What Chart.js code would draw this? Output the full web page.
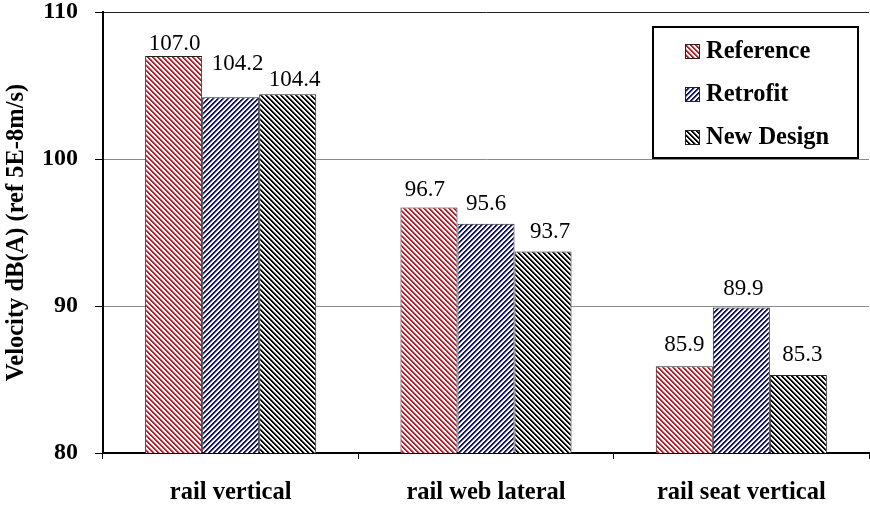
<!DOCTYPE html>
<html>
<head>
<meta charset="utf-8">
<script src="https://cdn.jsdelivr.net/npm/chart.js@4/dist/chart.umd.min.js"></script>
<style>
  html, body { margin: 0; padding: 0; background: #fff; }
  #wrap { width: 870px; height: 506px; position: relative; }
</style>
</head>
<body>
<div id="wrap"><canvas id="c"></canvas></div>
<script>
const categories = ['rail vertical', 'rail web lateral', 'rail seat vertical'];
const seriesNames = ['Reference', 'Retrofit', 'New Design'];
const referenceValues = [107.0, 96.7, 85.9];
const retrofitValues = [104.2, 95.6, 89.9];
const newDesignValues = [104.4, 93.7, 85.3];
const yTicks = [80, 90, 100, 110];

const FONT = "'Liberation Serif', 'Times New Roman', serif";

function makePattern(rgb, dir) {
  const s = 5;
  const c = document.createElement('canvas');
  c.width = s; c.height = s;
  const g = c.getContext('2d');
  const img = g.createImageData(s, s);
  for (let y = 0; y < s; y++) {
    for (let x = 0; x < s; x++) {
      const d = dir === '\\' ? ((x - y) % s + s) % s : ((x + y) % s + s) % s;
      let a = 0;
      if (d === 0 || d === 1) a = 1;
      else if (d === 2) a = 0.45;
      const idx = (y * s + x) * 4;
      img.data[idx] = Math.round(255 + (rgb[0] - 255) * a);
      img.data[idx + 1] = Math.round(255 + (rgb[1] - 255) * a);
      img.data[idx + 2] = Math.round(255 + (rgb[2] - 255) * a);
      img.data[idx + 3] = 255;
    }
  }
  g.putImageData(img, 0, 0);
  return g.createPattern(c, 'repeat');
}

const fills = [
  makePattern([190, 28, 40], '\\'),
  makePattern([20, 20, 100], '/'),
  makePattern([0, 0, 0], '\\')
];

// label nudges [dx, gap above bar top to baseline] per series/category
const labelNudges = [
  [[1, 6], [-4, 12], [0, 15]],
  [[7, 27], [0, 14], [2, 12]],
  [[7, 8], [7, 14], [4, 14]]
];

const valueLabels = {
  id: 'valueLabels',
  afterDatasetsDraw(chart) {
    const ctx = chart.ctx;
    ctx.save();
    ctx.font = "23px " + FONT;
    ctx.fillStyle = '#000';
    ctx.textAlign = 'center';
    ctx.textBaseline = 'alphabetic';
    chart.data.datasets.forEach((ds, di) => {
      const meta = chart.getDatasetMeta(di);
      meta.data.forEach((bar, i) => {
        const n = labelNudges[di][i];
        ctx.fillText(ds.data[i].toFixed(1), bar.x + n[0], bar.y - n[1]);
      });
    });
    ctx.restore();
  }
};

const boxLegend = {
  id: 'boxLegend',
  afterDraw(chart) {
    const ctx = chart.ctx;
    ctx.save();
    const x0 = 653, y0 = 27, w = 205, h = 131;
    ctx.fillStyle = '#fff';
    ctx.fillRect(x0, y0, w, h);
    ctx.strokeStyle = '#000';
    ctx.lineWidth = 2;
    ctx.strokeRect(x0, y0, w, h);
    ctx.font = "bold 24.5px " + FONT;
    ctx.textBaseline = 'middle';
    ctx.textAlign = 'left';
    chart.data.datasets.forEach((ds, i) => {
      const cy = 51 + i * 43;
      ctx.fillStyle = ds.backgroundColor;
      ctx.fillRect(685, cy - 7, 14, 14);
      ctx.strokeStyle = '#222';
      ctx.lineWidth = 1;
      ctx.strokeRect(685.5, cy - 6.5, 14, 14);
      ctx.fillStyle = '#000';
      ctx.fillText(ds.label, 706, cy + 1);
    });
    ctx.restore();
  }
};

const seriesValues = [referenceValues, retrofitValues, newDesignValues];

new Chart(document.getElementById('c'), {
  type: 'bar',
  data: {
    labels: categories,
    datasets: seriesNames.map((name, i) => ({
      label: name,
      data: seriesValues[i],
      backgroundColor: fills[i],
      borderColor: '#222',
      borderWidth: 1,
      categoryPercentage: 0.67,
      barPercentage: 1.0
    }))
  },
  options: {
    responsive: true,
    maintainAspectRatio: false,
    animation: false,
    layout: { padding: { top: 12, right: 1, left: 0, bottom: 0 } },
    plugins: {
      legend: { display: false },
      tooltip: { enabled: false }
    },
    scales: {
      x: {
        grid: {
          display: true,
          drawOnChartArea: false,
          drawTicks: true,
          tickLength: 6,
          tickColor: '#000',
          offset: true
        },
        border: { display: true, color: '#000', width: 2 },
        ticks: {
          color: '#000',
          font: { family: FONT, size: 24.5, weight: 'bold' },
          padding: 19,
          maxRotation: 0
        },
        afterFit(scale) { scale.height = 53; scale.paddingLeft = 0; scale.paddingRight = 0; }
      },
      y: {
        min: 80,
        max: 110,
        afterBuildTicks(scale) { scale.ticks = yTicks.map(v => ({ value: v })); },
        grid: {
          color: (c) => (c.tick && c.tick.value === 110) ? '#222' : '#8a8a8a',
          lineWidth: 1,
          tickLength: 8,
          tickColor: '#000'
        },
        border: { display: true, color: '#000', width: 2 },
        ticks: {
          color: '#000',
          font: { family: FONT, size: 24, weight: 'bold' },
          padding: 17
        },
        title: {
          display: true,
          text: 'Velocity dB(A) (ref 5E-8m/s)',
          color: '#000',
          font: { family: FONT, size: 24.5, weight: 'bold' },
          padding: { top: 2, bottom: 0 }
        },
        afterFit(scale) { scale.width = 103; scale.paddingTop = 0; scale.paddingBottom = 0; }
      }
    }
  },
  plugins: [valueLabels, boxLegend]
});
</script>
</body>
</html>
